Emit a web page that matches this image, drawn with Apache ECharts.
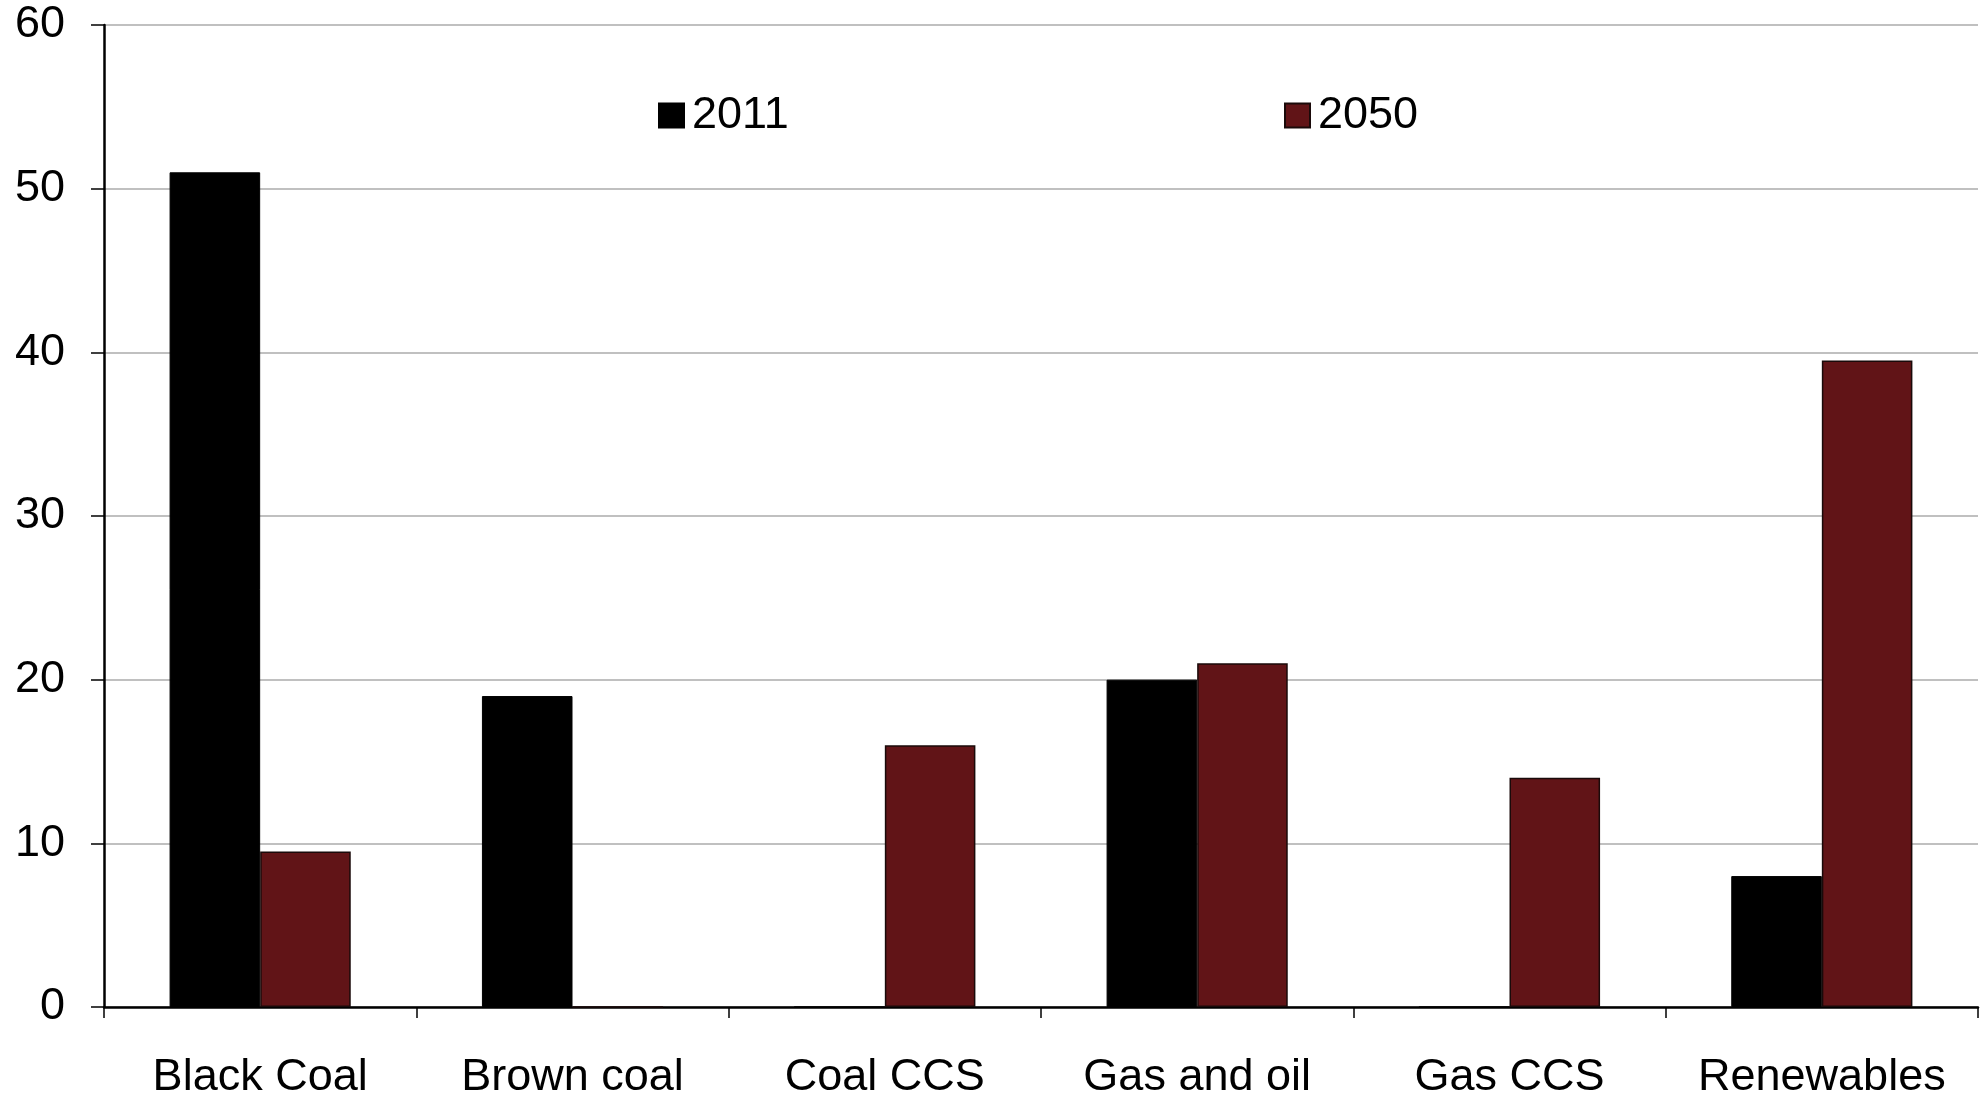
<!DOCTYPE html>
<html>
<head>
<meta charset="utf-8">
<title>Electricity generation mix, 2011 vs 2050</title>
<script src="https://cdn.jsdelivr.net/npm/echarts@6/dist/echarts.min.js"></script>
<style>
  html, body { margin: 0; padding: 0; background: #ffffff; }
  #chart { width: 1988px; height: 1096px; }
</style>
</head>
<body>
<div id="chart"></div>
<script>
// Generation sources on the category axis
const categories = ['Black Coal', 'Brown coal', 'Coal CCS', 'Gas and oil', 'Gas CCS', 'Renewables'];

// Share of generation by source
const values2011 = [51, 19, 0, 20, 0, 8];
const values2050 = [9.5, 0, 16, 21, 14, 39.5];

// Value-axis ticks
const yMin = 0;
const yMax = 60;
const yStep = 10;

const FONT = '"Liberation Sans", Arial, sans-serif';

const legendText = { fontFamily: FONT, fontSize: 45, color: '#000000', lineHeight: 44, padding: [0, 0, 0, 3] };

const chart = echarts.init(document.getElementById('chart'), null, { renderer: 'canvas' });

chart.setOption({
  animation: false,
  backgroundColor: '#ffffff',
  textStyle: { fontFamily: FONT, color: '#000000' },
  grid: { left: 104, right: 10, top: 25, bottom: 89, containLabel: false, outerBoundsMode: 'none' },
  // One legend entry per year, each placed on its own
  legend: [
    {
      left: 658, top: 93, padding: 0,
      itemWidth: 25, itemHeight: 24, icon: 'rect',
      textStyle: legendText,
      data: ['2011']
    },
    {
      left: 1284, top: 93, padding: 0,
      itemWidth: 25, itemHeight: 24, icon: 'rect',
      textStyle: legendText,
      data: ['2050']
    }
  ],
  xAxis: {
    type: 'category',
    data: categories,
    axisLine: { lineStyle: { color: '#000000', width: 2.5 } },
    axisTick: { show: true, alignWithLabel: false, length: 11, lineStyle: { color: '#000000', width: 1.5 } },
    axisLabel: { fontFamily: FONT, fontSize: 45, color: '#000000', margin: 48, interval: 0 },
    splitLine: { show: false }
  },
  yAxis: {
    type: 'value',
    min: yMin,
    max: yMax,
    interval: yStep,
    axisLine: { show: true, lineStyle: { color: '#000000', width: 2.5 } },
    axisTick: { show: true, length: 13, lineStyle: { color: '#000000', width: 1.5 } },
    axisLabel: { fontFamily: FONT, fontSize: 45, color: '#000000', margin: 39 },
    splitLine: { show: true, lineStyle: { color: '#c0c0c0', width: 2 } }
  },
  series: [
    {
      name: '2011',
      type: 'bar',
      data: values2011,
      barGap: '0%',
      barCategoryGap: '42%',
      itemStyle: { color: '#000000', borderColor: '#000000', borderWidth: 1 }
    },
    {
      name: '2050',
      type: 'bar',
      data: values2050,
      barGap: '0%',
      barCategoryGap: '42%',
      itemStyle: { color: '#611417', borderColor: '#1a0a0a', borderWidth: 1.5 }
    }
  ]
});
</script>
</body>
</html>
